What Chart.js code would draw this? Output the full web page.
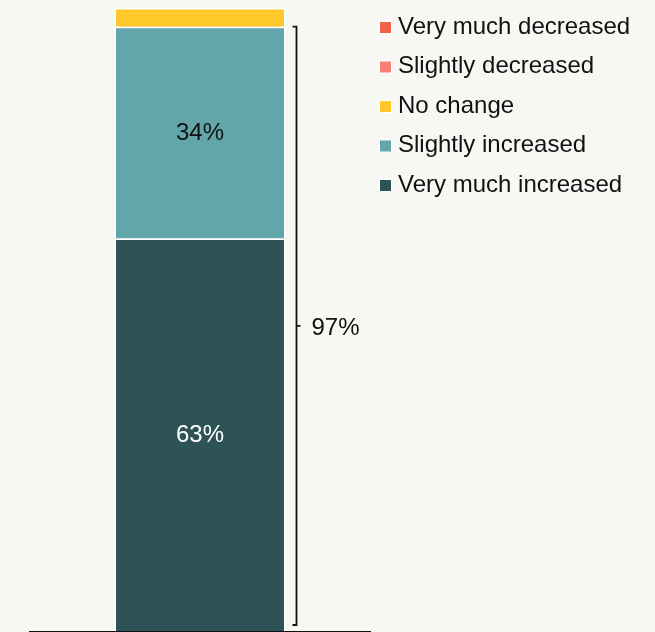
<!DOCTYPE html>
<html>
<head>
<meta charset="utf-8">
<script src="https://cdn.jsdelivr.net/npm/chart.js"></script>
<style>
  html, body { margin: 0; padding: 0; background: #f7f7f3; }
  #wrap { width: 655px; height: 632px; }
</style>
</head>
<body>
<div id="wrap"><canvas id="shareChart" width="655" height="632"></canvas></div>
<script>
// legend order, top to bottom
const responses = ['Very much decreased', 'Slightly decreased', 'No change', 'Slightly increased', 'Very much increased'];
const shares = [0, 0, 3, 34, 63];
const swatches = ['#f4614b', '#f77f75', '#fec82b', '#62a6aa', '#2e5356'];
const labelColors = ['#111', '#111', '#111', '#111', '#fff'];
// the bracket spans these responses
const bracketGroup = ['Slightly increased', 'Very much increased'];

const FONT = '"Liberation Sans", Arial, sans-serif';

// stack bottom-up: first dataset sits on the baseline
const datasets = responses.map((r, i) => ({
  label: r,
  data: [shares[i]],
  backgroundColor: swatches[i],
  borderColor: '#ffffff',
  borderWidth: 1.5,
  barPercentage: 0.5,
  categoryPercentage: 1,
  valueColor: labelColors[i]
})).reverse();

const overlay = {
  id: 'overlay',
  afterDatasetsDraw(chart) {
    const ctx = chart.ctx;
    const area = chart.chartArea;
    const yScale = chart.scales.y;
    ctx.save();

    // baseline
    ctx.strokeStyle = '#111';
    ctx.lineWidth = 1.2;
    ctx.beginPath();
    ctx.moveTo(area.left, area.bottom + 0.5);
    ctx.lineTo(area.right, area.bottom + 0.5);
    ctx.stroke();

    // values inside segments
    ctx.font = '24px ' + FONT;
    ctx.textAlign = 'center';
    ctx.textBaseline = 'middle';
    chart.data.datasets.forEach((ds, di) => {
      const v = ds.data[0];
      if (v < 5) return;
      const bar = chart.getDatasetMeta(di).data[0];
      ctx.fillStyle = ds.valueColor;
      ctx.fillText(v + '%', bar.x, (bar.y + bar.base) / 2 + 1);
    });

    // bracket for the combined increase
    const metas = chart.data.datasets.map((ds, di) => chart.getDatasetMeta(di));
    const bar0 = metas[0].data[0];
    const total = responses.reduce((s, r, i) => s + (bracketGroup.includes(r) ? shares[i] : 0), 0);
    const bx = bar0.x + bar0.width / 2 + 11;
    const top = yScale.getPixelForValue(total);
    const bottom = yScale.getPixelForValue(0) - 6;
    const mid = (top + bottom) / 2;
    ctx.strokeStyle = '#111';
    ctx.lineWidth = 1.8;
    ctx.beginPath();
    ctx.moveTo(bx - 4, top);
    ctx.lineTo(bx, top);
    ctx.lineTo(bx, bottom);
    ctx.lineTo(bx - 4, bottom);
    ctx.moveTo(bx, mid);
    ctx.lineTo(bx + 4, mid);
    ctx.stroke();
    ctx.fillStyle = '#111';
    ctx.textAlign = 'left';
    ctx.fillText(total + '%', bx + 15, mid + 3);

    // legend
    const lx = 380, ly = 26, step = 39.5;
    ctx.font = '24px ' + FONT;
    ctx.textBaseline = 'middle';
    responses.forEach((r, i) => {
      const y = ly + i * step;
      ctx.fillStyle = '#ffffff';
      ctx.fillRect(lx - 1, y - 5, 13, 13);
      ctx.fillStyle = swatches[i];
      ctx.fillRect(lx, y - 4, 11, 11);
      ctx.fillStyle = '#111';
      ctx.fillText(r, lx + 18, y + 1);
    });
    ctx.restore();
  }
};

new Chart(document.getElementById('shareChart').getContext('2d'), {
  type: 'bar',
  data: { labels: [''], datasets: datasets },
  options: {
    responsive: false,
    animation: false,
    layout: { padding: { left: 29, right: 284, top: 8, bottom: 1 } },
    scales: {
      x: { stacked: true, display: false },
      y: { stacked: true, display: false, min: 0, max: 100 }
    },
    plugins: {
      legend: { display: false },
      tooltip: { enabled: false }
    }
  },
  plugins: [overlay]
});
</script>
</body>
</html>
